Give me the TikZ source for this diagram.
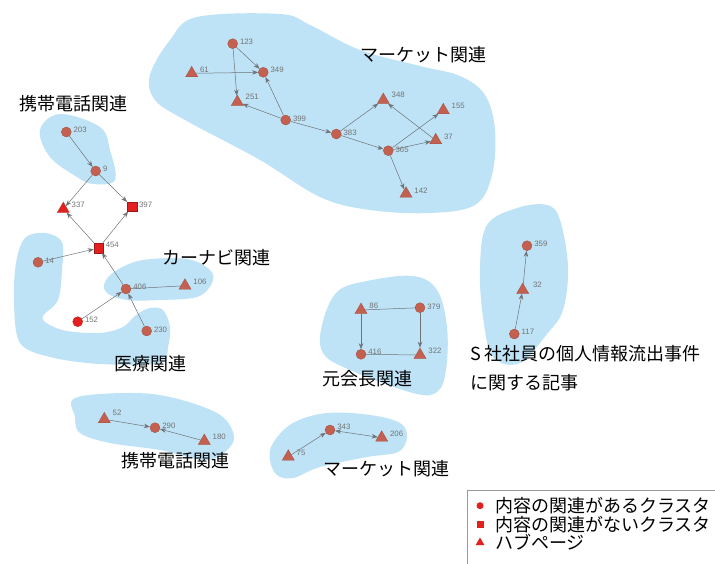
\documentclass[tikz,border=0pt]{standalone}
\usepackage{fontspec}
\setmainfont{Liberation Sans}
\newfontfamily\jpfont{Noto Sans CJK JP}
\usetikzlibrary{shapes.geometric,arrows.meta}
\definecolor{blob}{RGB}{190,227,246}
\definecolor{nodebrown}{RGB}{196,96,80}
\definecolor{nodered}{RGB}{228,32,30}
\definecolor{edgegray}{RGB}{110,115,120}
\tikzset{
  cnode/.style={circle,fill=nodebrown,draw=nodebrown!80!black,line width=0.3pt,minimum size=10pt,inner sep=0pt},
  rnode/.style={circle,fill=nodered,draw=nodered!80!black,line width=0.3pt,minimum size=10pt,inner sep=0pt},
  tnode/.style={regular polygon,regular polygon sides=3,fill=nodebrown,draw=nodebrown!80!black,line width=0.3pt,minimum size=14pt,inner sep=0pt},
  snode/.style={rectangle,fill=nodered,draw=nodered!70!black,line width=0.3pt,minimum size=9.5pt,inner sep=0pt},
  lbl/.style={font=\fontsize{7.8}{9}\selectfont,text=gray!90!black,inner sep=1pt,anchor=west},
  edge/.style={draw=edgegray,line width=0.5pt,-{Stealth[length=6pt,width=4.5pt]}},
  plain/.style={draw=edgegray,line width=0.5pt},
  jp/.style={font=\jpfont\fontsize{18}{21}\selectfont,inner sep=0pt},
  blobfill/.style={fill=blob,draw=none}
}
\begin{document}
\begin{tikzpicture}[x=1pt,y=-1pt]
\useasboundingbox (0,0) rectangle (715,563);
\fill[white] (0,0) rectangle (715,563);
% blobs
\fill[blob] plot[smooth cycle,tension=0.6] coordinates {(197,17) (280,14) (310,25) (360,50) (420,66) (460,76) (485,95) (495,130) (492,175) (475,205) (430,213) (370,210) (320,197) (260,160) (185,120) (155,100) (150,75) (170,40)};
\fill[blob] plot[smooth cycle,tension=0.6] coordinates {(40,130) (60,114) (100,127) (110,150) (115,180) (93,184) (77,177) (50,157)};
\fill[blob] plot[smooth cycle,tension=0.55] coordinates {(25,238) (45,233) (62,242) (62,270) (58,300) (43,316) (48,324) (67,331) (100,333) (123,327) (136,315) (150,308) (163,310) (170,327) (168,347) (160,363) (100,364) (50,357) (20,343) (14,303) (16,263)};
\fill[blob] plot[smooth cycle,tension=0.6] coordinates {(105,282) (117,270) (143,260) (187,259) (210,270) (212,283) (197,297) (160,300) (127,300) (107,293)};
\fill[blob] plot[smooth cycle,tension=0.6] coordinates {(337,292) (367,281) (413,276) (437,290) (447,327) (446,370) (437,392) (413,393) (350,370) (323,353) (322,325)};
\fill[blob] plot[smooth cycle,tension=0.6] coordinates {(487,225) (517,208) (547,205) (560,220) (568,267) (563,310) (547,334) (520,363) (493,357) (483,317) (480,267)};
\fill[blob] plot[smooth cycle,tension=0.6] coordinates {(75,398) (127,393) (170,397) (217,413) (233,432) (230,447) (207,460) (160,450) (110,443) (80,433) (75,417)};
\fill[blob] plot[smooth cycle,tension=0.6] coordinates {(273,443) (293,423) (327,413) (370,415) (400,423) (407,437) (398,452) (367,457) (320,467) (293,478) (277,475) (270,460)};
% nodes: market
\node[cnode] (n123) at (232.7,43.7) {};
\node[cnode] (n349) at (263.3,72.3) {};
\node[tnode] (n61) at (191.7,73.3) {};
\node[tnode] (n251) at (237.3,102) {};
\node[cnode] (n399) at (285.7,120) {};
\node[cnode] (n383) at (336.3,134) {};
\node[tnode] (n348) at (383.3,100) {};
\node[tnode] (n155) at (443.3,110.3) {};
\node[tnode] (n37) at (435.7,140.3) {};
\node[cnode] (n365) at (388.3,150.7) {};
\node[tnode] (n142) at (406,193.7) {};
% left cluster
\node[cnode] (n203) at (66.3,132) {};
\node[cnode] (n9) at (95.7,171) {};
\node[tnode,fill=nodered] (n337) at (63.3,209) {};
\node[snode] (n397) at (132,206.7) {};
\node[snode] (n454) at (98.7,248) {};
\node[cnode] (n14) at (38,262.3) {};
\node[cnode] (n406) at (126,289) {};
\node[tnode] (n106) at (185,285.7) {};
\node[rnode] (n152) at (77.7,321.7) {};
\node[cnode] (n230) at (146.7,331) {};
% motokaicho
\node[tnode] (n86) at (361,310) {};
\node[cnode] (n379) at (420,307.7) {};
\node[cnode] (n416) at (361,354.3) {};
\node[tnode] (n322) at (420,355) {};
% S company
\node[cnode] (n359) at (527,245.7) {};
\node[tnode] (n32) at (522.7,290) {};
\node[cnode] (n117) at (514.3,334) {};
% phone bottom
\node[tnode] (n52) at (104.3,419.3) {};
\node[cnode] (n290) at (155,427.7) {};
\node[tnode] (n180) at (204.3,441) {};
% market bottom
\node[tnode] (n75) at (288.3,456.7) {};
\node[cnode] (n343) at (330,430) {};
\node[tnode] (n206) at (381.7,437.7) {};
% labels
\foreach \n/\t/\dx/\dy in {n123/123/1/-2, n349/349/1/-2, n61/61/3/-3, n251/251/3/-5, n399/399/1/-1, n383/383/1/-1, n348/348/3/-5, n155/155/3/-4, n37/37/3/-3, n365/365/1/-1, n142/142/3/-3, n203/203/1/-2, n9/9/1/-2, n337/337/3/-4, n397/397/1/-2, n454/454/1/-3, n14/14/1/-1, n406/406/1/-2, n106/106/3/-4, n152/152/1/-2, n230/230/1/-1, n86/86/3/-4, n379/379/1/-1, n416/416/1/-2, n322/322/3/-4, n359/359/1/-2, n32/32/5/-5, n117/117/1/-2, n52/52/3/-6, n290/290/1/-2, n180/180/3/-4, n75/75/3/-4, n343/343/1/-3, n206/206/3/-4}
  \node[lbl] at ([xshift=\dx pt,yshift=-\dy pt]\n.east) {\t};
% edges
\draw[edge] (n123) -- (n349);
\draw[edge] (n123) -- (n251);
\draw[edge] (n61) -- (n349);
\draw[edge] (n399) -- (n349);
\draw[edge] (n399) -- (n251);
\draw[edge] (n399) -- (n383);
\draw[edge] (n383) -- (n348);
\draw[edge] (n383) -- (n365);
\draw[edge] (n365) -- (n155);
\draw[edge] (n365) -- (n37);
\draw[edge] (n37) -- (n348);
\draw[edge] (n365) -- (n142);
\draw[edge] (n203) -- (n9);
\draw[edge] (n9) -- (n337);
\draw[edge] (n9) -- (n397);
\draw[edge] (n454) -- (n337);
\draw[edge] (n454) -- (n397);
\draw[edge] (n14) -- (n454);
\draw[edge] (n406) -- (n454);
\draw[plain] (n106) -- (n406);
\draw[edge] (n152) -- (n406);
\draw[edge] (n230) -- (n406);
\draw[plain] (n379) -- (n86);
\draw[edge] (n86) -- (n416);
\draw[edge] (n379) -- (n322);
\draw[plain] (n322) -- (n416);
\draw[edge] (n117) -- (n32);
\draw[edge] (n32) -- (n359);
\draw[edge] (n52) -- (n290);
\draw[edge] (n180) -- (n290);
\draw[edge] (n75) -- (n343);
\draw[edge,{Stealth[length=6pt,width=4.5pt]}-{Stealth[length=6pt,width=4.5pt]}] (n343) -- (n206);
% cluster titles
\node[jp] (t1) at (73.5,104) {携帯電話関連};
\node[jp] (t2) at (423.5,55) {マーケット関連};
\node[jp] (t3) at (216.5,258) {カーナビ関連};
\node[jp] (t4) at (150,364) {医療関連};
\node[jp] (t5) at (367.5,379) {元会長関連};
\node[jp,anchor=west] (t6) at (470,354) {S 社社員の個人情報流出事件};
\node[jp,anchor=west] (t7) at (470,383) {に関する記事};
\node[jp] (t8) at (175,461) {携帯電話関連};
\node[jp] (t9) at (386.5,469) {マーケット関連};
% legend
\draw[gray!80,line width=0.6pt] (467.5,490.5) rectangle (716,566);
\node[circle,fill=nodered,minimum size=7pt,inner sep=0pt] (lg1) at (480,505.7) {};
\node[rectangle,fill=nodered,minimum size=7pt,inner sep=0pt] (lg2) at (480,524.3) {};
\node[regular polygon,regular polygon sides=3,fill=nodered,minimum size=10pt,inner sep=0pt] (lg3) at (480,542.5) {};
\node[jp,anchor=west] (lt1) at (495,505.7) {内容の関連があるクラスタ};
\node[jp,anchor=west] (lt2) at (495,524.3) {内容の関連がないクラスタ};
\node[jp,anchor=west] (lt3) at (495,542.5) {ハブページ};
\end{tikzpicture}
\end{document}
